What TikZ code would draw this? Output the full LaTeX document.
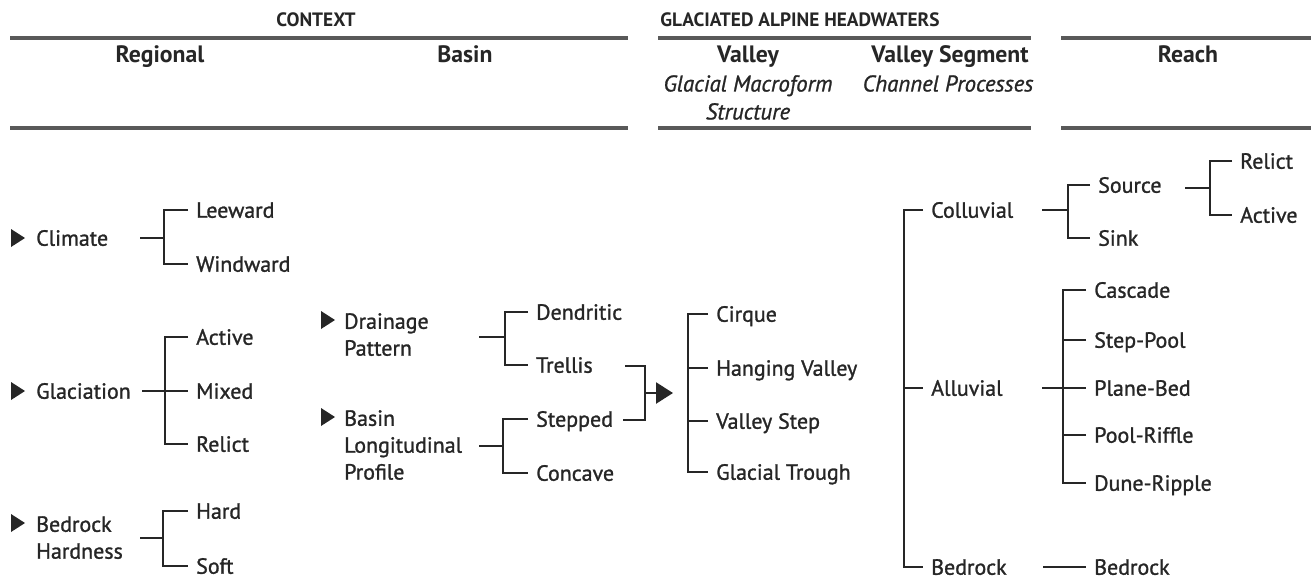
\documentclass[tikz,border=0pt]{standalone}
\usepackage{fontspec}
\setmainfont{PT Sans}
\usepackage{tikz}
\usetikzlibrary{arrows.meta}

\begin{document}
\begin{tikzpicture}[x=0.02cm,y=-0.02cm,line width=1.4pt,color=black!85,
  >={Triangle[length=0.34cm,width=0.42cm]},
  item/.style={anchor=west,inner xsep=0.14cm,inner ysep=0pt,text height=8.8pt,
    text depth=0pt,font=\fontsize{12.5}{15.3}\selectfont\addfontfeatures{FakeBold=1.2}},
  group/.style={anchor=north west,align=left,inner xsep=0.14cm,inner ysep=0pt,
    font=\fontsize{12.5}{15.3}\selectfont\addfontfeatures{FakeBold=1.2}},
  caps/.style={anchor=base,inner sep=0pt,font=\bfseries\fontsize{11}{12}\selectfont},
  level/.style={anchor=base,inner sep=0pt,font=\bfseries\fontsize{13.5}{16}\selectfont},
  sub/.style={anchor=north,align=center,inner sep=0pt,
    font=\itshape\fontsize{13}{15.9}\selectfont\addfontfeatures{FakeBold=1}},
  rule/.style={line width=1.8pt,black!65}]
  \useasboundingbox (0,0) rectangle (1311,579);

  % headings
  \node[caps] (context) at (316,26) {CONTEXT};
  \node[caps] (glaciated) at (800,26) {GLACIATED ALPINE HEADWATERS};
  \node[level] (regional) at (160,62) {Regional};
  \node[level] (basin) at (465,62) {Basin};
  \node[level] (valley) at (748,62) {Valley};
  \node[level] (segment) at (950,62) {Valley Segment};
  \node[level] (reach) at (1188,62) {Reach};
  \node[sub] (valley-sub) at (748,74) {Glacial Macroform\\Structure};
  \node[sub] (segment-sub) at (948,74) {Channel Processes};
  \draw[rule] (10,38) -- (628,38) (658,38) -- (1031,38) (1061,38) -- (1311,38);
  \draw[rule] (10,128) -- (628,128) (658,128) -- (1031,128) (1061,128) -- (1311,128);

  % pointers
  \foreach \x/\y in {18/238,18/391,18/523,328/320,328/417}
    \fill (\x-7,\y-9) -- (\x+7,\y) -- (\x-7,\y+9) -- cycle;

  % regional
  \node[item] (climate) at (28,238) {Climate};
  \node[item] (leeward) at (188,210) {Leeward};
  \node[item] (windward) at (188,264) {Windward};
  \node[item] (glaciation) at (28,391) {Glaciation};
  \node[item] (g-active) at (188,337) {Active};
  \node[item] (g-mixed) at (188,391) {Mixed};
  \node[item] (g-relict) at (188,444) {Relict};
  \node[group] (hardness) at (28,515) {Bedrock\\Hardness};
  \node[item] (hard) at (188,511) {Hard};
  \node[item] (soft) at (188,566) {Soft};

  \coordinate (climate-o) at (140,238);
  \coordinate (climate-j) at (164,238);
  \coordinate (glaciation-o) at (142,391);
  \coordinate (glaciation-j) at (165,391);
  \coordinate (hardness-o) at (140,538);
  \coordinate (hardness-j) at (163,538);

  \draw (climate-o) -- (climate-j);
  \draw (leeward.west) -| (climate-j) |- (windward.west);
  \draw (glaciation-o) -- (g-mixed.west);
  \draw (g-active.west) -| (glaciation-j) |- (g-relict.west);
  \draw (hardness-o) -- (hardness-j);
  \draw (hard.west) -| (hardness-j) |- (soft.west);

  % basin
  \node[group] (drainage) at (336,312) {Drainage\\Pattern};
  \node[item] (dendritic) at (528,312) {Dendritic};
  \node[item] (trellis) at (528,365) {Trellis};
  \node[group] (profile) at (336,409) {Basin\\Longitudinal\\Profile};
  \node[item] (stepped) at (528,419) {Stepped};
  \node[item] (concave) at (528,473) {Concave};

  \coordinate (drainage-o) at (479,337);
  \coordinate (drainage-j) at (505,337);
  \coordinate (profile-o) at (479,446);
  \coordinate (profile-j) at (503,446);
  \coordinate (trellis-o) at (625,366);
  \coordinate (stepped-o) at (623,420);
  \coordinate (merge-j) at (645,393);
  \coordinate (valley-in) at (673,393);

  \draw (drainage-o) -- (drainage-j);
  \draw (dendritic.west) -| (drainage-j) |- (trellis.west);
  \draw (profile-o) -- (profile-j);
  \draw (stepped.west) -| (profile-j) |- (concave.west);
  \draw (trellis-o) -| (merge-j) |- (stepped-o);
  \draw[->] (merge-j) -- (valley-in);

  % valley
  \node[item] (cirque) at (708,314) {Cirque};
  \node[item] (hanging) at (708,368) {Hanging Valley};
  \node[item] (vstep) at (708,421) {Valley Step};
  \node[item] (trough) at (708,472) {Glacial Trough};
  \coordinate (valley-j) at (688,393);

  \draw (cirque.west) -| (valley-j) |- (trough.west);
  \draw (hanging.west) -- (hanging.west -| valley-j);
  \draw (vstep.west) -- (vstep.west -| valley-j);

  % valley segment
  \node[item] (colluvial) at (923,210) {Colluvial};
  \node[item] (alluvial) at (923,388) {Alluvial};
  \node[item] (bedrock) at (923,567) {Bedrock};
  \coordinate (segment-j) at (904,388);

  \draw (colluvial.west) -| (segment-j) |- (bedrock.west);
  \draw (segment-j) -- (alluvial.west);

  % reach
  \node[item] (source) at (1090,185) {Source};
  \node[item] (sink) at (1090,238) {Sink};
  \node[item] (r-relict) at (1232,161) {Relict};
  \node[item] (r-active) at (1232,215) {Active};
  \node[item] (cascade) at (1086,290) {Cascade};
  \node[item] (steppool) at (1086,340) {Step-Pool};
  \node[item] (planebed) at (1086,388) {Plane-Bed};
  \node[item] (poolriffle) at (1086,435) {Pool-Riffle};
  \node[item] (duneripple) at (1086,483) {Dune-Ripple};
  \node[item] (r-bedrock) at (1086,567) {Bedrock};

  \coordinate (colluvial-o) at (1042,210);
  \coordinate (colluvial-j) at (1068,210);
  \coordinate (source-o) at (1185,188);
  \coordinate (source-j) at (1210,188);
  \coordinate (alluvial-o) at (1042,388);
  \coordinate (alluvial-j) at (1063,388);
  \coordinate (bedrock-o) at (1043,567);

  \draw (colluvial-o) -- (colluvial-j);
  \draw (source.west) -| (colluvial-j) |- (sink.west);
  \draw (source-o) -- (source-j);
  \draw (r-relict.west) -| (source-j) |- (r-active.west);
  \draw (alluvial-o) -- (planebed.west);
  \draw (cascade.west) -| (alluvial-j) |- (duneripple.west);
  \draw (steppool.west) -- (steppool.west -| alluvial-j);
  \draw (poolriffle.west) -- (poolriffle.west -| alluvial-j);
  \draw (bedrock-o) -- (r-bedrock.west);
\end{tikzpicture}
\end{document}
